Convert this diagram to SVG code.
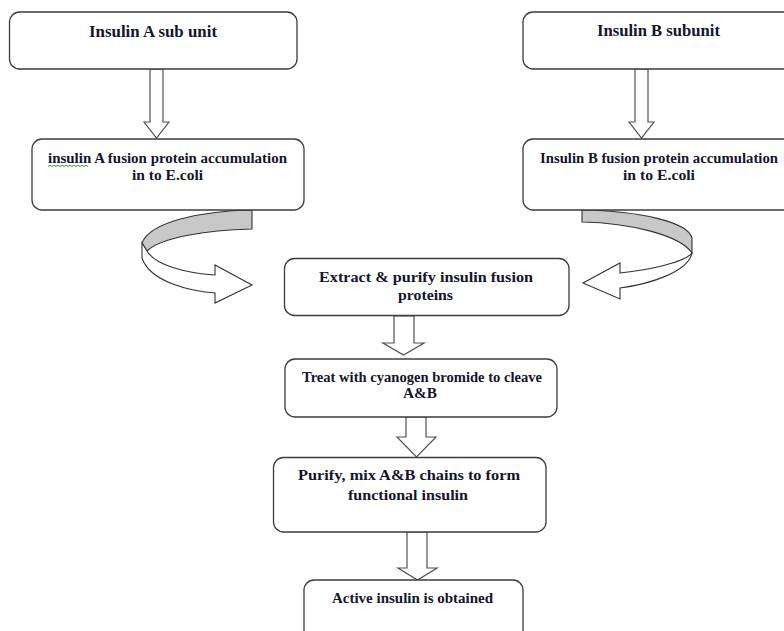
<svg xmlns="http://www.w3.org/2000/svg" width="784" height="631" viewBox="0 0 784 631">
<style>
.box{fill:#fff;stroke:#3c3c3c;stroke-width:1.3}
.arr{fill:#fff;stroke:#505050;stroke-width:1.2;stroke-linejoin:miter}
.band{fill:#c8c8c8;stroke:#333;stroke-width:1.1}
.rib{fill:#fff;stroke:#333;stroke-width:1.1}
text{font-family:"Liberation Serif","Times New Roman",serif;font-weight:bold;font-size:15px;fill:#14142a;text-anchor:middle}
</style>
<rect width="784" height="631" fill="#fff"/>
<g id="connectors">
<path class="arr" d="M150,69 L150,122 L144,122 L156.5,138 L169,122 L163,122 L163,69 Z"/>
<path class="arr" d="M635,69 L635,122 L629,122 L641.5,138 L654,122 L648,122 L648,69 Z"/>
<path class="band" d="M252,210 C200,211 150,222 142,243 L147,251 C160,238 205,230 252,229 Z"/>
<path class="rib" d="M142,243 L142,258 C150,282 190,291 215,293 L215,303 L252,285 L215,265 L215,275 C185,273 155,265 147,251 Z"/>
<path class="band" d="M582,210 C640,211 688,222 692,238 L692,253 C680,235 630,223 582,222 Z"/>
<path class="rib" d="M692,253 C688,272 650,284 620,288 L620,299 L583,283 L620,263 L620,273 C650,270 685,262 692,253 Z"/>
<path class="arr" d="M394,316 L394,343 L383,343 L403.5,355 L424,343 L414,343 L414,316 Z"/>
<path class="arr" d="M406,417 L406,437 L397,437 L416.5,457 L436,437 L426,437 L426,417 Z"/>
<path class="arr" d="M407,532 L407,568 L398,568 L417.5,580 L437,568 L427,568 L427,532 Z"/>
</g>
<g id="insulinA">
<rect class="box" x="9.5" y="12" width="287.5" height="57" rx="10"/>
<text x="153" y="37" textLength="128" lengthAdjust="spacingAndGlyphs" style="font-size:16px">Insulin A sub unit</text>
</g>
<g id="insulinB">
<rect class="box" x="523" y="12" width="290" height="57" rx="10"/>
<text x="658.5" y="36" textLength="123" lengthAdjust="spacingAndGlyphs" style="font-size:16px">Insulin B subunit</text>
</g>
<g id="fusionA">
<rect class="box" x="32" y="139" width="272" height="71" rx="10"/>
<text x="167.5" y="163" textLength="239" lengthAdjust="spacingAndGlyphs">insulin A fusion protein accumulation</text>
<text x="167.5" y="180" textLength="71" lengthAdjust="spacingAndGlyphs">in to E.coli</text>
<path d="M48,166.5 l2,-1.2 l2,1.2 l2,-1.2 l2,1.2 l2,-1.2 l2,1.2 l2,-1.2 l2,1.2 l2,-1.2 l2,1.2 l2,-1.2 l2,1.2 l2,-1.2 l2,1.2 l2,-1.2 l2,1.2 l2,-1.2 l2,1.2 l2,-1.2 l2,1.2" fill="none" stroke="#3b9a3b" stroke-width="1"/>
</g>
<g id="fusionB">
<rect class="box" x="523" y="139" width="290" height="71" rx="10"/>
<text x="659" y="163" textLength="238" lengthAdjust="spacingAndGlyphs">Insulin B fusion protein accumulation</text>
<text x="659" y="180" textLength="72" lengthAdjust="spacingAndGlyphs">in to E.coli</text>
</g>
<g id="extract">
<rect class="box" x="284.5" y="258.5" width="284.5" height="57" rx="10"/>
<text x="426" y="282" textLength="214" lengthAdjust="spacingAndGlyphs">Extract &amp; purify insulin fusion</text>
<text x="425.5" y="300" textLength="55" lengthAdjust="spacingAndGlyphs">proteins</text>
</g>
<g id="treat">
<rect class="box" x="285" y="359" width="272" height="58" rx="10"/>
<text x="422" y="382" textLength="240" lengthAdjust="spacingAndGlyphs">Treat with cyanogen bromide to cleave</text>
<text x="420" y="398" textLength="34" lengthAdjust="spacingAndGlyphs">A&amp;B</text>
</g>
<g id="purify">
<rect class="box" x="273.5" y="457.5" width="272.5" height="74.5" rx="10"/>
<text x="409" y="480" textLength="222" lengthAdjust="spacingAndGlyphs">Purify, mix A&amp;B chains to form</text>
<text x="408" y="500" textLength="120" lengthAdjust="spacingAndGlyphs">functional insulin</text>
</g>
<g id="active">
<rect class="box" x="304" y="580" width="219" height="70" rx="10"/>
<text x="412.5" y="603" textLength="161" lengthAdjust="spacingAndGlyphs">Active insulin is obtained</text>
</g>
</svg>
